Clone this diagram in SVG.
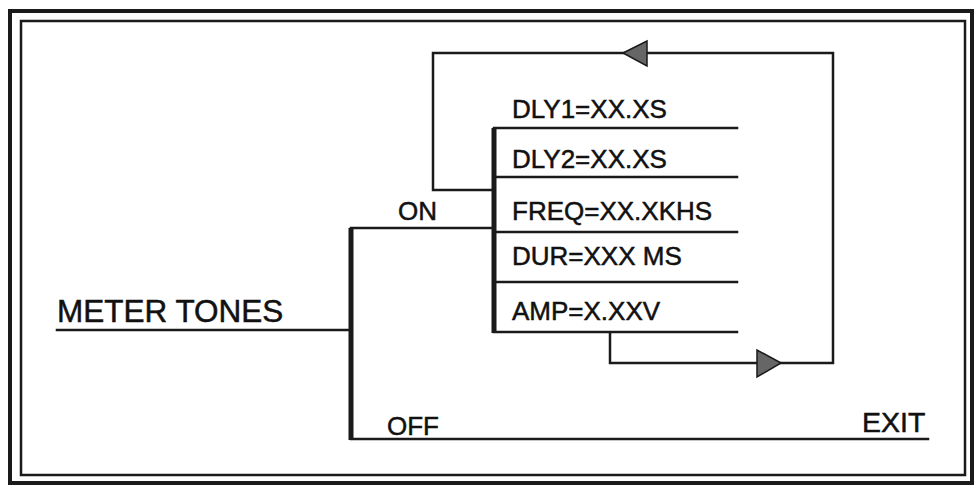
<svg xmlns="http://www.w3.org/2000/svg" width="976" height="486" viewBox="0 0 976 486">
<style>
.ln{stroke:#1a1a1a;stroke-width:2.5;fill:none;stroke-linecap:square}
.bar{stroke:#1a1a1a;stroke-width:5;fill:none}
.t{font-family:"Liberation Sans",Arial,sans-serif;fill:#111;stroke:#111;stroke-width:0.5;font-size:26px}
.arr{fill:#666;stroke:#1a1a1a;stroke-width:1.5;stroke-linejoin:miter}
</style>
<rect width="976" height="486" fill="#fff"/>
<g id="frame">
<rect x="10" y="11" width="962" height="472" fill="none" stroke="#1a1a1a" stroke-width="4"/>
<rect x="21" y="21" width="944" height="454" fill="none" stroke="#1a1a1a" stroke-width="2.5"/>
</g>
<g id="connectors">
<path class="ln" d="M57 330 H350"/>
<path class="bar" d="M351 228 V440"/>
<path class="ln" d="M351 228 H493"/>
<path class="ln" d="M351 439 H928"/>
<path class="bar" d="M494 128 V333"/>
<path class="ln" d="M494 128 H737"/>
<path class="ln" d="M494 177 H737"/>
<path class="ln" d="M494 232 H737"/>
<path class="ln" d="M494 282 H737"/>
<path class="ln" d="M494 332 H737"/>
<path class="ln" d="M494 190 H433 V53 H833 V363 H610 V333"/>
<polygon class="arr" points="623,53 647,41 647,66"/>
<polygon class="arr" points="781,363 757,350 757,377"/>
</g>
<g id="meter-tones"><text class="t" x="57" y="322" style="font-size:31.5px">METER TONES</text></g>
<g id="on"><text class="t" x="398" y="220">ON</text></g>
<g id="off"><text class="t" x="387" y="435">OFF</text></g>
<g id="exit"><text class="t" x="862" y="432" style="font-size:28.5px">EXIT</text></g>
<g id="dly1"><text class="t" x="512" y="118">DLY1=XX.XS</text></g>
<g id="dly2"><text class="t" x="512" y="168">DLY2=XX.XS</text></g>
<g id="freq"><text class="t" x="512" y="220">FREQ=XX.XKHS</text></g>
<g id="dur"><text class="t" x="512" y="265">DUR=XXX MS</text></g>
<g id="amp"><text class="t" x="512" y="320">AMP=X.XXV</text></g>
</svg>
